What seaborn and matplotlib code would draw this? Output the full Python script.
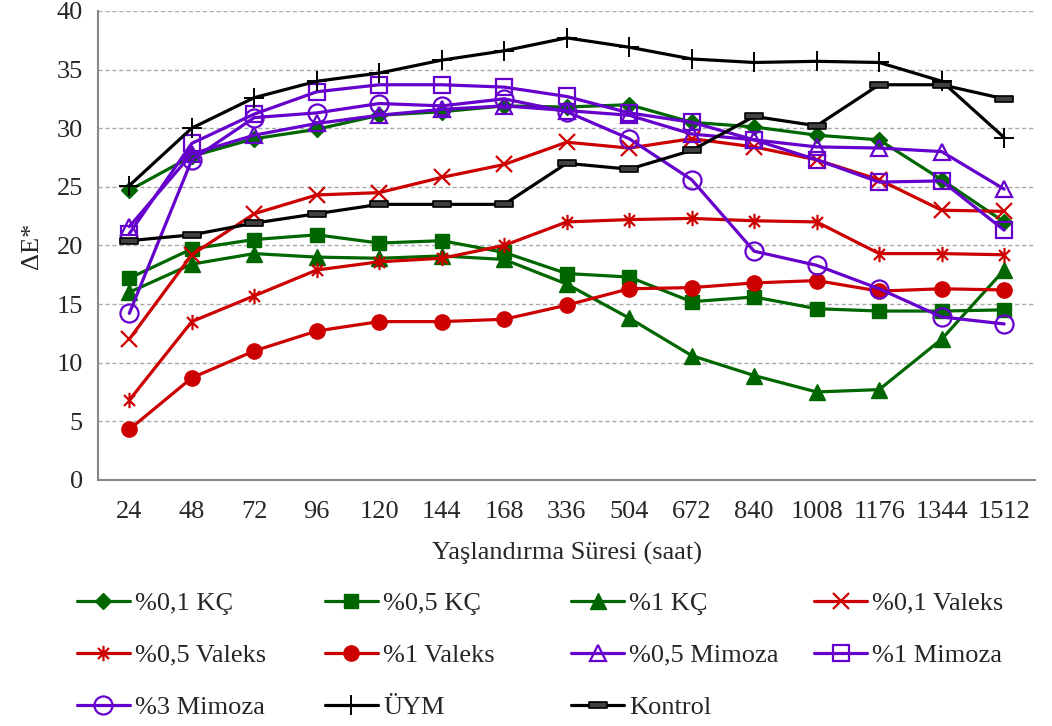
import numpy as np
import pandas as pd
import matplotlib
matplotlib.use("Agg")
import matplotlib.pyplot as plt
from matplotlib.path import Path
import seaborn as sns

# ---------------- data ----------------
hours = ["24", "48", "72", "96", "120", "144", "168", "336", "504",
         "672", "840", "1008", "1176", "1344", "1512"]

kc_01 = [24.7, 27.6, 29.1, 29.9, 31.1, 31.4, 31.9, 31.8, 32.0, 30.5, 30.1, 29.4, 29.0, 25.6, 22.0]
kc_05 = [17.2, 19.7, 20.5, 20.9, 20.2, 20.4, 19.4, 17.6, 17.3, 15.2, 15.6, 14.6, 14.4, 14.4, 14.5]
kc_1 = [16.0, 18.4, 19.3, 19.0, 18.9, 19.1, 18.8, 16.7, 13.8, 10.6, 8.9, 7.5, 7.7, 12.0, 17.9]
valeks_01 = [12.0, 19.2, 22.7, 24.3, 24.5, 25.8, 26.9, 28.8, 28.3, 29.1, 28.4, 27.3, 25.6, 23.0, 22.9]
valeks_05 = [6.8, 13.5, 15.7, 17.9, 18.6, 18.9, 20.0, 22.0, 22.2, 22.3, 22.1, 22.0, 19.3, 19.3, 19.2]
valeks_1 = [4.3, 8.7, 11.0, 12.7, 13.5, 13.5, 13.7, 14.9, 16.3, 16.4, 16.8, 17.0, 16.1, 16.3, 16.2]
mimoza_05 = [21.6, 27.8, 29.4, 30.4, 31.1, 31.6, 31.9, 31.5, 31.1, 29.5, 29.0, 28.4, 28.3, 28.0, 24.8]
mimoza_1 = [21.0, 28.7, 31.2, 33.1, 33.7, 33.7, 33.5, 32.7, 31.3, 30.5, 29.0, 27.3, 25.4, 25.5, 21.3]
mimoza_3 = [14.2, 27.3, 30.9, 31.3, 32.1, 31.9, 32.5, 31.4, 29.1, 25.6, 19.5, 18.3, 16.3, 13.9, 13.3]
uym = [25.1, 30.0, 32.6, 34.0, 34.7, 35.8, 36.6, 37.7, 36.9, 35.9, 35.6, 35.7, 35.6, 34.0, 29.2]
kontrol = [20.4, 20.9, 21.9, 22.7, 23.5, 23.5, 23.5, 27.0, 26.5, 28.1, 31.0, 30.2, 33.7, 33.7, 32.5]

series_names = ["%0,1 KÇ", "%0,5 KÇ", "%1 KÇ", "%0,1 Valeks", "%0,5 Valeks",
                "%1 Valeks", "%0,5 Mimoza", "%1 Mimoza", "%3 Mimoza", "ÜYM", "Kontrol"]
series_values = [kc_01, kc_05, kc_1, valeks_01, valeks_05, valeks_1,
                 mimoza_05, mimoza_1, mimoza_3, uym, kontrol]

x_label = "Yaşlandırma Süresi (saat)"
y_label = "ΔE*"
y_ticks = [0, 5, 10, 15, 20, 25, 30, 35, 40]

# ---------------- style ----------------
GREEN = "#006600"
RED = "#CC0000"
PURPLE = "#6600CC"
BLACK = "#000000"

star = Path([(0, -1), (0, 1), (-0.72, -0.72), (0.72, 0.72), (-0.72, 0.72), (0.72, -0.72)],
            [Path.MOVETO, Path.LINETO, Path.MOVETO, Path.LINETO, Path.MOVETO, Path.LINETO])
dash = Path([(-1, -0.32), (1, -0.32), (1, 0.32), (-1, 0.32), (-1, -0.32)],
            [Path.MOVETO, Path.LINETO, Path.LINETO, Path.LINETO, Path.CLOSEPOLY])

styles = [
    dict(color=GREEN, marker="D", markersize=8.5, mfc=GREEN, mec=GREEN, mew=1),
    dict(color=GREEN, marker="s", markersize=10, mfc=GREEN, mec=GREEN, mew=1),
    dict(color=GREEN, marker="^", markersize=11, mfc=GREEN, mec=GREEN, mew=1),
    dict(color=RED, marker="x", markersize=11, mfc=RED, mec=RED, mew=1.6),
    dict(color=RED, marker=star, markersize=11, mfc=RED, mec=RED, mew=1.6),
    dict(color=RED, marker="o", markersize=11, mfc=RED, mec=RED, mew=1),
    dict(color=PURPLE, marker="^", markersize=12, mfc="none", mec=PURPLE, mew=1.6),
    dict(color=PURPLE, marker="s", markersize=12, mfc="none", mec=PURPLE, mew=1.6),
    dict(color=PURPLE, marker="o", markersize=13, mfc="none", mec=PURPLE, mew=1.6),
    dict(color=BLACK, marker="+", markersize=14, mfc=BLACK, mec=BLACK, mew=1.4),
    dict(color=BLACK, marker=dash, markersize=13, mfc="#404040", mec=BLACK, mew=1.2),
]

sns.set_theme(style="white")
plt.rcParams["font.family"] = ["Liberation Serif", "DejaVu Serif"]

FS = 19
fig = plt.figure(figsize=(10.52, 7.26), dpi=100)
ax = fig.add_axes([0.0932, 0.339, 0.891, 0.646])

for name, vals, st in zip(series_names, series_values, styles):
    df = pd.DataFrame({"hour": hours, "val": vals})
    sns.lineplot(data=df, x="hour", y="val", ax=ax, label=name, sort=False,
                 color=st["color"], linewidth=2.3, marker=st["marker"],
                 markersize=st["markersize"], markerfacecolor=st["mfc"],
                 markeredgecolor=st["mec"], markeredgewidth=st["mew"], legend=False)

if ax.get_legend() is not None:
    ax.get_legend().remove()

# axes
ax.set_ylim(0, 40)
ax.set_yticks(y_ticks)
ax.set_yticklabels([str(t) for t in y_ticks], fontsize=FS)
ax.set_xlim(-0.5, len(hours) - 0.5)
ax.set_xticks(np.arange(len(hours)))
ax.set_xticklabels(hours, fontsize=FS)
ax.tick_params(axis="x", which="major", length=0, pad=15)
ax.set_xticks(np.arange(len(hours) + 1) - 0.5, minor=True)
ax.tick_params(axis="x", which="minor", length=7, width=1.3, color="#888888", direction="out")
ax.tick_params(axis="y", length=7, width=1.3, color="#888888", direction="out", pad=4)
ax.yaxis.grid(True, linestyle=(0, (3, 2)), color="#aaaaaa", linewidth=1.0)
ax.xaxis.grid(False)
ax.set_axisbelow(True)
for s in ["top", "right"]:
    ax.spines[s].set_visible(False)
for s in ["left", "bottom"]:
    ax.spines[s].set_color("#888888")
    ax.spines[s].set_linewidth(1.5)
ax.set_xlabel(x_label, fontsize=FS, labelpad=14)
ax.set_ylabel(y_label, fontsize=FS, labelpad=10)

# legend: 4 columns, filled row-wise as in the reference
handles, labels = ax.get_legend_handles_labels()
ncols = 4
col_x = [0.0732, 0.309, 0.543, 0.774]
for c in range(ncols):
    idx = list(range(c, len(handles), ncols))
    fig.legend([handles[i] for i in idx], [labels[i] for i in idx],
               loc="upper left", bbox_to_anchor=(col_x[c], 0.1854),
               frameon=False, fontsize=FS, borderpad=0, borderaxespad=0,
               handlelength=2.0, handletextpad=0.2, labelspacing=1.08)

fig.savefig("out.png", dpi=100)
